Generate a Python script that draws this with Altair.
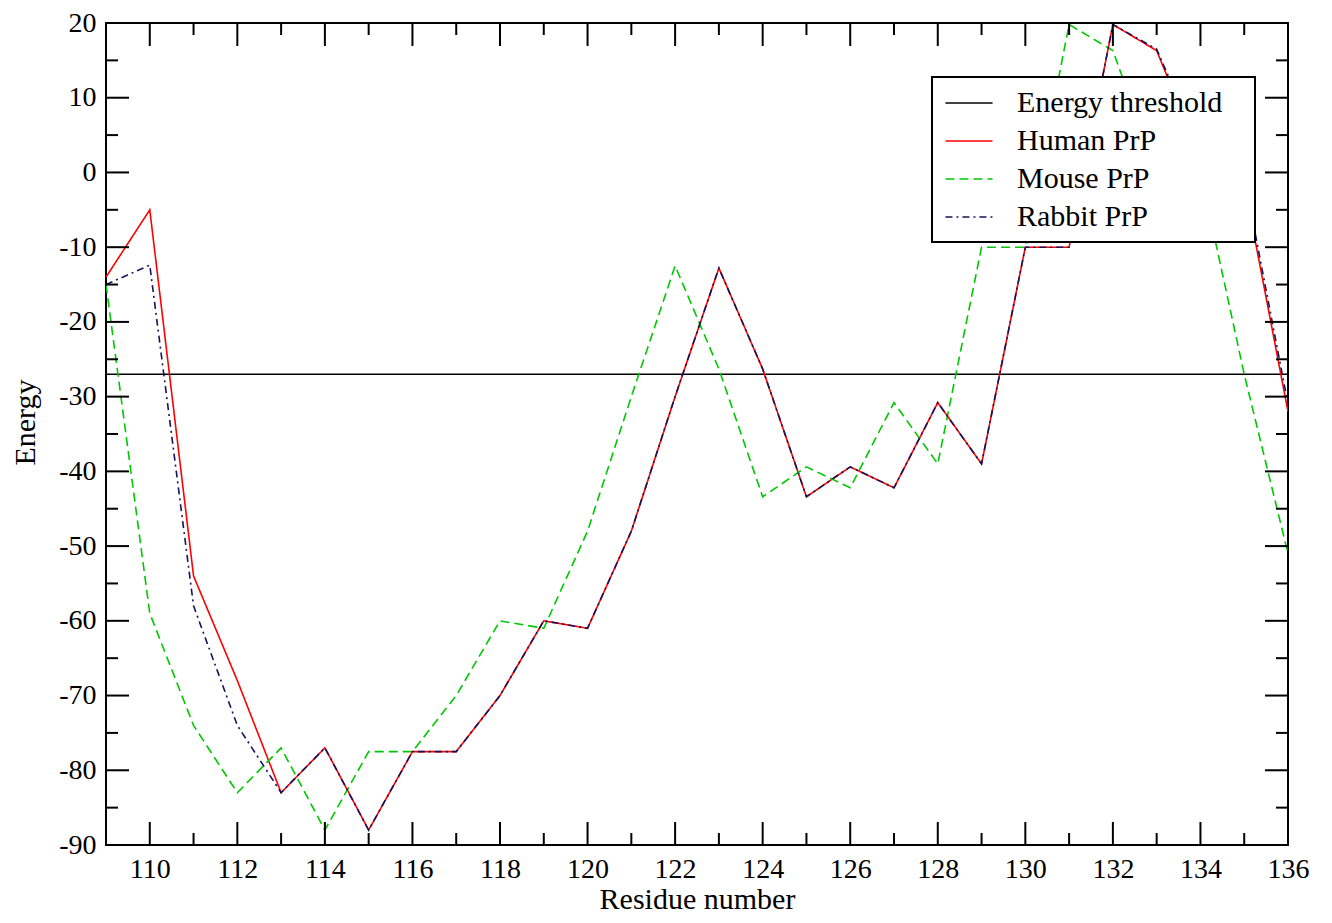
import altair as alt
import pandas as pd

# ---------------- data ----------------
residues = list(range(109, 137))
human = [-14, -5, -54, -68, -83, -77, -88, -77.5, -77.5, -70, -60, -61, -48, -30,
         -12.8, -26.3, -43.4, -39.4, -42.2, -30.8, -39, -10, -10, 19.8, 16.3, 2, -1.5, -32]
mouse = [-15, -59, -74, -83, -77, -88, -77.5, -77.5, -70, -60, -61, -48, -30, -12.5,
         -26.3, -43.4, -39.4, -42.2, -30.8, -39, -10, -10, 19.8, 16.3, 0, 0, -27, -51]
rabbit = [-15, -12.4, -58, -74, -83, -77, -88, -77.5, -77.5, -70, -60, -61, -48, -30,
          -12.8, -26.3, -43.4, -39.4, -42.2, -30.8, -39, -10, -10, 19.8, 16.5, 3, -0.5, -31]
threshold_value = -27
threshold_x = [109, 136]

series_names = ["Energy threshold", "Human PrP", "Mouse PrP", "Rabbit PrP"]
series_colors = ["#000000", "#ff0000", "#00c800", "#14145a"]
series_dashes = [[1, 0], [1, 0], [9, 5], [7, 4, 2, 4]]

x_label_values = list(range(110, 137, 2))
x_major = list(range(110, 136, 2))
x_minor = list(range(111, 136, 2))
y_label_values = list(range(-90, 21, 10))
y_major = list(range(-80, 20, 10))
y_minor = list(range(-85, 20, 10))

W, H = 1182, 822
FONT = "Liberation Serif"

rows = []
for xv in threshold_x:
    rows.append({"residue": xv, "energy": threshold_value, "series": series_names[0]})
for name, vals in zip(series_names[1:], [human, mouse, rabbit]):
    for xv, yv in zip(residues, vals):
        rows.append({"residue": xv, "energy": yv, "series": name})
df = pd.DataFrame(rows)

xscale = alt.Scale(domain=[109, 136], nice=False, zero=False)
yscale = alt.Scale(domain=[-90, 20], nice=False, zero=False)

label_expr = "datum.value < 0 ? '-' + abs(datum.value) : '' + datum.value"

xaxis = alt.Axis(values=x_label_values, title="Residue number",
                 labelFont=FONT, labelFontSize=28, labelColor="black",
                 labelPadding=10, titleBaseline="alphabetic", titleY=63,
                 titleFont=FONT, titleFontSize=30,
                 labelExpr=label_expr)
yaxis = alt.Axis(values=y_label_values, title="Energy", labelPadding=10,
                 labelFont=FONT, labelFontSize=28, labelColor="black",
                 titleFont=FONT, titleFontSize=30,
                 titleX=-81, titleY=399, titleBaseline="middle",
                 labelExpr=label_expr)

legend = alt.Legend(
    title=".",
    titleOrient="right",
    titleColor="white",
    titleFontSize=8,
    titlePadding=21,
    orient="none",
    legendX=826,
    legendY=54,
    padding=10,
    symbolType="M-1.57,0H1.57",
    symbolSize=900,
    symbolStrokeWidth=1.6,
    symbolOffset=11,
    labelOffset=32,
    rowPadding=7,
    labelFont=FONT,
    labelFontSize=30,
    labelColor="black",
    labelLimit=500,
    fillColor="white",
    strokeColor="black",
)

lines = alt.Chart(df).mark_line(strokeWidth=1.6, clip=True).encode(
    x=alt.X("residue:Q", scale=xscale, axis=xaxis),
    y=alt.Y("energy:Q", scale=yscale, axis=yaxis),
    color=alt.Color("series:N", scale=alt.Scale(domain=series_names, range=series_colors),
                    legend=legend),
    strokeDash=alt.StrokeDash("series:N", scale=alt.Scale(domain=series_names, range=series_dashes),
                              legend=legend),
)


def tick_layer(values, side, length):
    d = pd.DataFrame({"v": values})
    base = alt.Chart(d).mark_rule(color="black", strokeWidth=2)
    if side == "bottom":
        return base.encode(x=alt.X("v:Q", scale=xscale, axis=xaxis),
                           y=alt.value(H), y2=alt.value(H - length))
    if side == "top":
        return base.encode(x=alt.X("v:Q", scale=xscale, axis=xaxis),
                           y=alt.value(0), y2=alt.value(length))
    if side == "left":
        return base.encode(y=alt.Y("v:Q", scale=yscale, axis=yaxis),
                           x=alt.value(0), x2=alt.value(length))
    return base.encode(y=alt.Y("v:Q", scale=yscale, axis=yaxis),
                       x=alt.value(W), x2=alt.value(W - length))


ticks = [
    tick_layer(x_major, "bottom", 23), tick_layer(x_minor, "bottom", 12),
    tick_layer(x_major, "top", 23), tick_layer(x_minor, "top", 12),
    tick_layer(y_major, "left", 23), tick_layer(y_minor, "left", 12),
    tick_layer(y_major, "right", 23), tick_layer(y_minor, "right", 12),
]

chart = alt.layer(lines, *ticks).properties(
    width=W, height=H,
    autosize=alt.AutoSizeParams(type="none"),
    padding={"left": 98, "top": 15, "right": 30, "bottom": 70},
    background="white",
).configure(
    font=FONT
).configure_view(
    stroke="black", strokeWidth=2
).configure_axis(
    labelFont=FONT, labelFontSize=28, labelColor="black",
    titleFont=FONT, titleFontSize=30, titleColor="black", titleFontWeight="normal",
    grid=False, ticks=False, tickSize=0, domain=False,
    labelFlush=False, labelOverlap=False,
).configure_legend(
    strokeWidth=2
)

chart.save("out.html", embed_options={"renderer": "svg", "actions": False})
